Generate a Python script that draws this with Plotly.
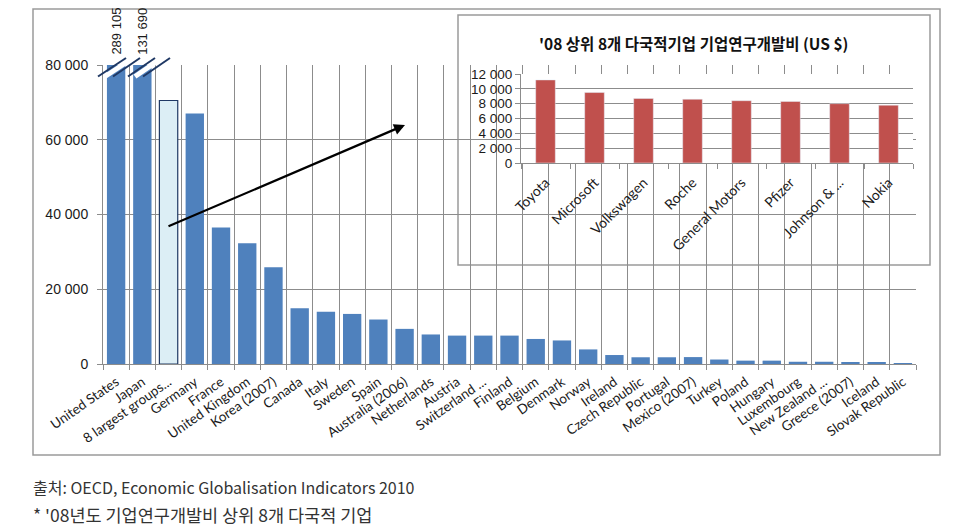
import plotly.graph_objects as go

# OECD business R&D expenditure (main chart)
countries = ["United States", "Japan", "8 largest groups...", "Germany", "France",
             "United Kingdom", "Korea (2007)", "Canada", "Italy", "Sweden", "Spain",
             "Australia (2006)", "Netherlands", "Austria", "Switzerland ...", "Finland",
             "Belgium", "Denmark", "Norway", "Ireland", "Czech Republic", "Portugal",
             "Mexico (2007)", "Turkey", "Poland", "Hungary", "Luxembourg",
             "New Zealand ...", "Greece (2007)", "Iceland", "Slovak Republic"]
rd_values = [289105, 131690, 70500, 67000, 36500, 32300, 25900, 14900, 14000, 13400,
             11900, 9400, 7900, 7600, 7600, 7600, 6700, 6300, 3900, 2400, 1800, 1800,
             1850, 1200, 900, 900, 600, 600, 300, 300, 250]
main_ticks = [0, 20000, 40000, 60000, 80000]

# top 8 multinational groups, 2008 (inset)
companies = ["Toyota", "Microsoft", "Volkswagen", "Roche", "General Motors",
             "Pfizer", "Johnson & ...", "Nokia"]
company_values = [11200, 9500, 8700, 8600, 8400, 8300, 8000, 7800]
inset_ticks = [0, 2000, 4000, 6000, 8000, 10000, 12000]

inset_title = "'08 상위 8개 다국적기업 기업연구개발비 (US $)"
source_note = "출처: OECD, Economic Globalisation Indicators 2010"
star_note = "* '08년도 기업연구개발비 상위 8개 다국적 기업"


def fmt(v):
    return f"{v:,}".replace(",", " ")


# page pixels (the page body adds an 8px margin around the figure)
OFF = 8
W, H = 955 - OFF, 531 - OFF
# plot area in page pixels: x 103..916, y 65..364
L, R, T, B = 103, 916, 65, 364


def px(x):
    return (x - L) / (R - L)


def py(y):
    return (B - y) / (B - T)


BLUE = "#4F81BD"
RED = "#C0504D"
GRID = "#8C8C8C"

colors = [BLUE] * len(countries)
colors[2] = "#DCEEF5"
line_w = [0] * len(countries)
line_w[2] = 1.2

fig = go.Figure()
fig.add_trace(go.Bar(
    x=countries, y=rd_values,
    marker=dict(color=colors, line=dict(color="#1F3864", width=line_w)),
    xaxis="x", yaxis="y", showlegend=False))

fig.add_trace(go.Bar(
    x=companies, y=company_values,
    marker=dict(color=RED), width=0.4,
    xaxis="x2", yaxis="y2", showlegend=False))

tick_font = dict(family="Lato", size=13.5, color="#1a1a1a")
num_font = dict(family="Liberation Sans", size=14, color="#1a1a1a")

fig.update_layout(
    width=W, height=H,
    margin=dict(l=L - OFF, r=955 - R, t=T - OFF, b=531 - B),
    paper_bgcolor="white", plot_bgcolor="white",
    bargap=0.3,
    xaxis=dict(domain=[0, 1], anchor="y", type="category", tickson="boundaries",
               ticks="outside", ticklen=5, tickcolor=GRID, showgrid=True,
               gridcolor=GRID, gridwidth=1, showline=True, linecolor=GRID,
               tickangle=-35, tickfont=tick_font, ticklabelstandoff=4),
    yaxis=dict(domain=[0, 1], anchor="x", range=[0, 80000], tickvals=main_ticks,
               ticktext=[fmt(v) for v in main_ticks], ticks="outside", ticklen=5,
               tickcolor=GRID, showgrid=True, gridcolor=GRID, zeroline=False,
               showline=True, linecolor=GRID, tickfont=num_font, ticklabelstandoff=6),
    xaxis2=dict(domain=[px(521), px(913)], anchor="y2", type="category",
                tickson="boundaries", ticks="outside", ticklen=5, tickcolor=GRID,
                showgrid=False, showline=True, linecolor=GRID, tickangle=-45,
                tickfont=dict(family="Lato", size=14, color="#1a1a1a"),
                ticklabelstandoff=5),
    yaxis2=dict(domain=[py(163), py(74)], anchor="x2", range=[0, 12000],
                tickvals=inset_ticks, ticktext=[fmt(v) for v in inset_ticks],
                ticks="outside", ticklen=5, tickcolor=GRID, showgrid=True,
                gridcolor=GRID, zeroline=False, showline=True, linecolor=GRID,
                tickfont=dict(family="Liberation Sans", size=13.5, color="#1a1a1a")),
)

shapes = [
    # outer chart frame
    dict(type="rect", xref="paper", yref="paper", layer="below",
         x0=px(33), x1=px(940), y0=py(455), y1=py(9),
         line=dict(color="#9a9a9a", width=1.5), fillcolor="white"),
    # inset frame covering main gridlines
    dict(type="rect", xref="paper", yref="paper", layer="between",
         x0=px(458), x1=px(930), y0=py(265), y1=py(15),
         line=dict(color="#9a9a9a", width=1.5), fillcolor="white"),
]
# axis-break marks on the two clipped bars
for x0, x1 in [(98, 126), (128, 155)]:
    shapes.append(dict(type="line", xref="paper", yref="paper",
                       x0=px(x0 + 7), x1=px(x1 + 7), y0=py(76.5), y1=py(58),
                       line=dict(color="white", width=5)))
for x0, x1 in [(98, 126), (113, 140), (128, 155), (143, 170)]:
    shapes.append(dict(type="line", xref="paper", yref="paper",
                       x0=px(x0), x1=px(x1), y0=py(76.5), y1=py(58),
                       line=dict(color="#1F3864", width=2)))
fig.update_layout(shapes=shapes)

annotations = []
for name, v in zip(countries[:2], rd_values[:2]):
    annotations.append(dict(x=name, y=80000, xref="x", yref="y", text=fmt(v),
                            showarrow=False, textangle=-90, yanchor="bottom",
                            yshift=8, font=dict(family="Liberation Sans", size=13,
                                                color="#1a1a1a")))
annotations += [
    dict(x=px(693), y=py(43), xref="paper", yref="paper", text="<b>" + inset_title + "</b>",
         showarrow=False, xanchor="center", yanchor="middle",
         font=dict(family="Noto Sans CJK KR", size=15.5, color="#111")),
    dict(x=px(405), y=py(125), xref="paper", yref="paper", text="", showarrow=True,
         ax=167 - 405, ay=227 - 125, arrowhead=2, arrowsize=1, arrowwidth=2.2,
         arrowcolor="black", standoff=0),
    dict(x=px(31), y=py(487), xref="paper", yref="paper", text=source_note,
         showarrow=False, xanchor="left", yanchor="middle",
         font=dict(family="Noto Sans CJK KR", size=16, color="#333")),
    dict(x=px(31), y=py(515), xref="paper", yref="paper", text=star_note,
         showarrow=False, xanchor="left", yanchor="middle",
         font=dict(family="Noto Sans CJK KR", size=17.5, color="#333")),
]
fig.update_layout(annotations=annotations)

fig.write_html("out.html")
